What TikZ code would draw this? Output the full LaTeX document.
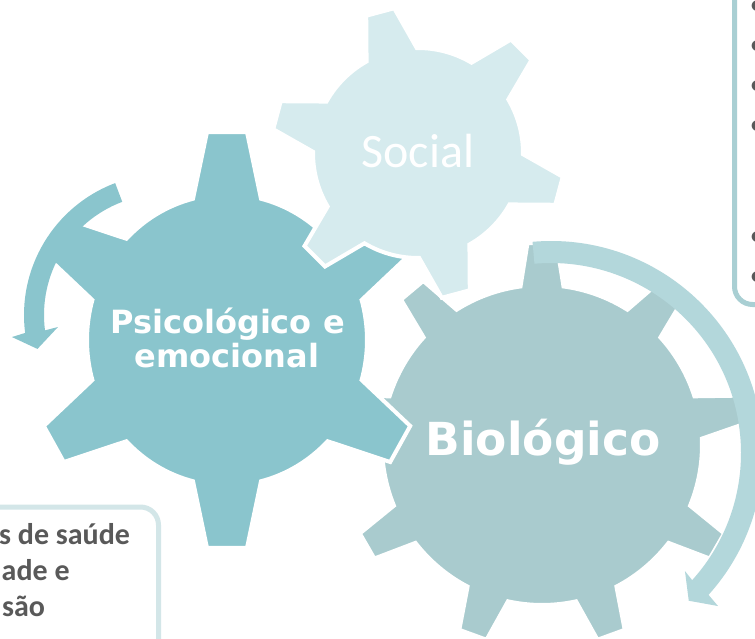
\documentclass[tikz,border=0pt]{standalone}
\usepackage{fontspec}
\setmainfont{Carlito}
\newfontfamily\dvs{DejaVu Sans}
\definecolor{psicol}{HTML}{8AC5CD}
\definecolor{soccol}{HTML}{D6EBEE}
\definecolor{biocol}{HTML}{A9CBCE}
\definecolor{bioarr}{HTML}{B3D7DB}
\definecolor{boxa}{HTML}{D3E6E8}
\definecolor{boxb}{HTML}{A9CFD3}
\definecolor{txtgray}{HTML}{595959}
% #1 options, #2 n teeth, #3 offset angle, #4 body r, #5 outer R, #6 tip half width, #7 base half width
\newcommand\drawmygear[7]{%
 \pgfmathsetmacro\myga{asin(#7/#4)}%
 \pgfmathsetmacro\mygb{atan(#6/#5)}%
 \pgfmathsetmacro\mygR{veclen(#5,#6)}%
 \pgfmathsetmacro\mygs{360/#2}%
 \pgfmathtruncatemacro\mygn{#2-1}%
 \path[#1] ({#3-\myga}:#4)
  \foreach \k in {0,...,\mygn} {
   -- ({#3+\k*\mygs-\mygb}:\mygR) -- ({#3+\k*\mygs+\mygb}:\mygR)
   -- ({#3+\k*\mygs+\myga}:#4)
   arc[start angle={#3+\k*\mygs+\myga}, end angle={#3+(\k+1)*\mygs-\myga}, radius=#4]
  } -- cycle;
}
\tikzset{
  gearline/.style={draw=white, line width=4},
  boldtxt/.style={text=white, inner sep=0pt, anchor=base, font=\dvs\bfseries},
  boxtxt/.style={text=txtgray, inner sep=0pt, anchor=base west, font=\bfseries\fontsize{30}{36}\selectfont},
  bullettxt/.style={text=txtgray, inner sep=0pt, anchor=base, font=\fontsize{30}{36}\selectfont}
}
\begin{document}
\begin{tikzpicture}[x=1pt,y=-1pt]
\useasboundingbox (0,0) rectangle (755,639);
\clip (0,0) rectangle (755,639);
\fill[white] (0,0) rectangle (755,639);

% Biological gear and its arrow
\drawmygear{fill=biocol, gearline, shift={(542,445)}}{9}{-90}{160}{202}{14.5}{21.5}
\fill[bioarr, shift={(551,453)}] (-95:212) arc[start angle=-95, end angle=42, radius=212]
  -- (42.5:226.5) -- (47:202) -- (41.4:178.6) -- (42:190)
  arc[start angle=42, end angle=-95, radius=190] -- cycle;

% Psychological gear and its arrow
\drawmygear{fill=psicol, gearline, shift={(227,340)}, yscale=1.04}{6}{90}{140}{200}{20}{34}
\fill[psicol, shift={(165,315)}] (-110.7:141) arc[start angle=-110.7, end angle=-187.3, radius=141]
  -- (-188.2:154.6) -- (-194.9:132) -- (-186.4:107.7) -- (-187.3:121)
  arc[start angle=-187.3, end angle=-110.7, radius=121] -- cycle;

% Social gear
\drawmygear{fill=soccol, gearline, shift={(418,153)}}{6}{-45}{105}{146}{14.5}{26}

% gear labels
\node[boldtxt, font=\dvs\bfseries\fontsize{45.5}{50}\selectfont] (bio) at (543,455) {Biológico};
\node[boldtxt, font=\dvs\bfseries\fontsize{32}{34}\selectfont] (psi1) at (227.5,333.3) {Psicológico e};
\node[boldtxt, font=\dvs\bfseries\fontsize{32}{34}\selectfont] (psi2) at (227,367.7) {emocional};
\node[text=white, inner sep=0pt, anchor=base, font=\fontsize{48}{54}\selectfont] (soc) at (418,168) {Social};

% bottom-left text box
\draw[boxa, line width=5, rounded corners=18] (-40,507) rectangle (158.5,720);
\node[boxtxt] (l1) at (-1,544) {s de saúde};
\node[boxtxt] (l2) at (1.5,580) {ade e};
\node[boxtxt] (l3) at (2,616) {são};

% top-right text box
\draw[boxb, line width=5, rounded corners=18] (734.5,-40) rectangle (820,304.5);
\foreach \yy [count=\i] in {7,47,87,127,237,277}
  \node[bullettxt] (b\i) at (757,\yy+8) {•};
\end{tikzpicture}
\end{document}
